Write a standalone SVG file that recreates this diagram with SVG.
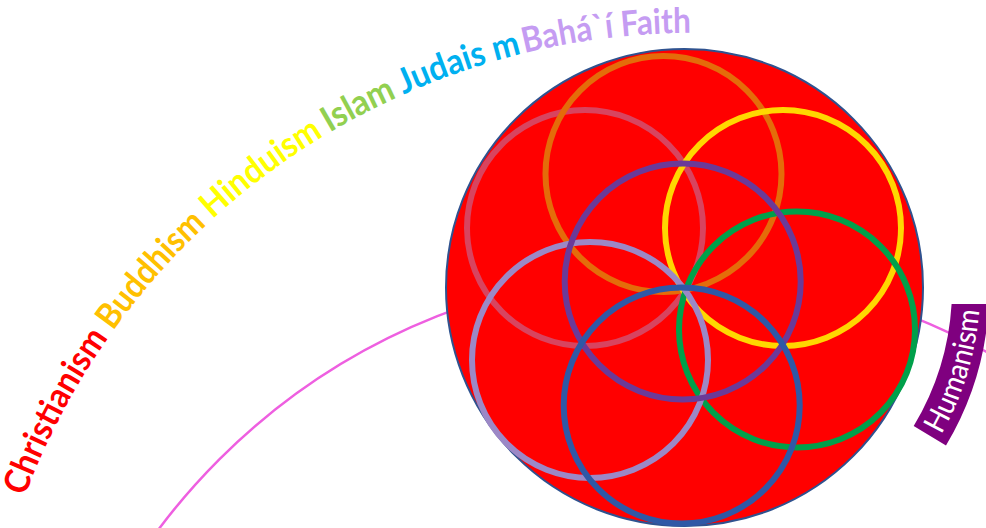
<svg xmlns="http://www.w3.org/2000/svg" xmlns:xlink="http://www.w3.org/1999/xlink" width="986" height="528" viewBox="0 0 986 528">
  <style>
    .lbl { font-family: Lato, "Open Sans", "Liberation Sans", sans-serif; font-weight: bold; font-size: 35px; }
    .ring { fill: none; stroke-width: 6; }
    .hum { font-family: Lato, "Open Sans", "Liberation Sans", sans-serif; font-size: 30px; fill: #ffffff; }
  </style>
  <defs>
    <path id="textArc" d="M 22.7 502.1 A 715 715 0 0 1 756.5 35.5"/>
    <path id="humArc" d="M 935 444.9 A 296 296 0 0 0 979.8 298.3"/>
  </defs>
  <rect x="0" y="0" width="986" height="528" fill="#ffffff"/>

  <g id="connectors">
    <circle cx="674" cy="914" r="643" fill="none" stroke="#EE5FE0" stroke-width="2.5"/>
  </g>

  <g id="big-circle">
    <circle cx="684.5" cy="287.5" r="238.5" fill="#FF0000" stroke="#2F528F" stroke-width="2"/>
  </g>

  <g id="rings">
    <circle class="ring" cx="585" cy="228" r="118" stroke="#D8445F"/>
    <circle class="ring" cx="663.5" cy="174" r="118" stroke="#E46C0A"/>
    <circle class="ring" cx="783" cy="228" r="118" stroke="#FFD700"/>
    <circle class="ring" cx="797" cy="329.5" r="118" stroke="#00A04A"/>
    <circle class="ring" cx="590" cy="360" r="118" stroke="#9C88C6"/>
    <circle class="ring" cx="682.7" cy="281.5" r="118" stroke="#6B3A98"/>
    <circle class="ring" cx="681.7" cy="405.5" r="118" stroke="#2F58A6"/>
  </g>

  <g id="humanism">
    <path d="M 951.6 304 A 268 268 0 0 1 913.7 426 L 946 445.5 A 305 305 0 0 0 988.8 304 Z" fill="#7F007F"/>
    <text class="hum"><textPath xlink:href="#humArc" href="#humArc" startOffset="50%" text-anchor="middle" textLength="131" lengthAdjust="spacingAndGlyphs">Humanism</textPath></text>
  </g>

  <g id="labels">
    <text id="christianism" class="lbl" fill="#FF0000"><textPath href="#textArc" xlink:href="#textArc" startOffset="6" textLength="180" lengthAdjust="spacingAndGlyphs">Christianism</textPath></text>
    <text id="buddhism" class="lbl" fill="#FFC000"><textPath href="#textArc" xlink:href="#textArc" startOffset="194" textLength="142" lengthAdjust="spacingAndGlyphs">Buddhism</textPath></text>
    <text id="hinduism" class="lbl" fill="#FFFF00"><textPath href="#textArc" xlink:href="#textArc" startOffset="344" textLength="139" lengthAdjust="spacingAndGlyphs">Hinduism</textPath></text>
    <text id="islam" class="lbl" fill="#92D050"><textPath href="#textArc" xlink:href="#textArc" startOffset="490" textLength="76" lengthAdjust="spacingAndGlyphs">Islam</textPath></text>
    <text id="judaism" class="lbl" fill="#00B0F0"><textPath href="#textArc" xlink:href="#textArc" startOffset="573" textLength="125" lengthAdjust="spacingAndGlyphs">Judais m</textPath></text>
    <text id="bahai" class="lbl" fill="#C59CF2"><textPath href="#textArc" xlink:href="#textArc" startOffset="701" textLength="168" lengthAdjust="spacingAndGlyphs">Bahá`í Faith</textPath></text>
  </g>
</svg>
